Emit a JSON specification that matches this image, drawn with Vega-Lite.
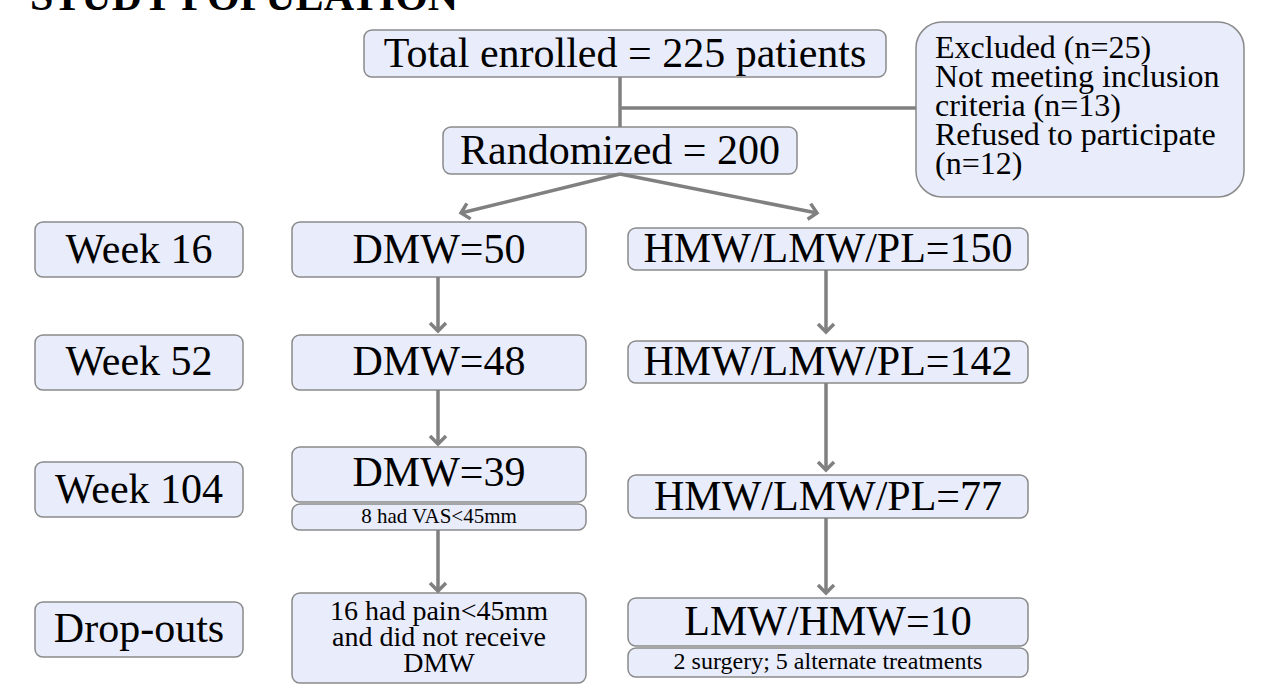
{
  "$schema": "https://vega.github.io/schema/vega-lite/v6.json",
  "autosize": {"type": "none"},
  "width": 1270,
  "height": 688,
  "padding": 0,
  "background": "white",
  "config": {"view": {"stroke": null}},
  "datasets": {
    "boxes": [
      {"id": "total", "x1": 364, "x2": 886, "y1": 30, "y2": 77, "kind": "normal"},
      {"id": "rand", "x1": 443, "x2": 797, "y1": 127, "y2": 174, "kind": "normal"},
      {"id": "excl", "x1": 916, "x2": 1244, "y1": 22, "y2": 197, "kind": "round"},
      {"id": "w16", "x1": 35, "x2": 243, "y1": 222, "y2": 277, "kind": "normal"},
      {"id": "d50", "x1": 292, "x2": 586, "y1": 222, "y2": 277, "kind": "normal"},
      {"id": "h150", "x1": 628, "x2": 1028, "y1": 228, "y2": 270, "kind": "normal"},
      {"id": "w52", "x1": 35, "x2": 243, "y1": 335, "y2": 390, "kind": "normal"},
      {"id": "d48", "x1": 292, "x2": 586, "y1": 335, "y2": 390, "kind": "normal"},
      {"id": "h142", "x1": 628, "x2": 1028, "y1": 341, "y2": 383, "kind": "normal"},
      {"id": "w104", "x1": 35, "x2": 243, "y1": 462, "y2": 517, "kind": "normal"},
      {"id": "d39", "x1": 292, "x2": 586, "y1": 447, "y2": 502, "kind": "normal"},
      {"id": "d39s", "x1": 292, "x2": 586, "y1": 504, "y2": 530, "kind": "normal"},
      {"id": "h77", "x1": 628, "x2": 1028, "y1": 475, "y2": 518, "kind": "normal"},
      {"id": "drop", "x1": 35, "x2": 243, "y1": 602, "y2": 657, "kind": "normal"},
      {"id": "pain", "x1": 292, "x2": 586, "y1": 593, "y2": 683, "kind": "normal"},
      {"id": "l10", "x1": 628, "x2": 1028, "y1": 598, "y2": 646, "kind": "normal"},
      {"id": "l10s", "x1": 628, "x2": 1028, "y1": 648, "y2": 677, "kind": "normal"}
    ],
    "lines": [
      {"x1": 620, "y1": 77, "x2": 620, "y2": 127},
      {"x1": 620, "y1": 108, "x2": 916, "y2": 108},
      {"x1": 620, "y1": 174, "x2": 461, "y2": 213},
      {"x1": 620, "y1": 174, "x2": 817, "y2": 213},
      {"x1": 438, "y1": 277, "x2": 438, "y2": 331},
      {"x1": 438, "y1": 390, "x2": 438, "y2": 444},
      {"x1": 438, "y1": 530, "x2": 438, "y2": 591},
      {"x1": 826, "y1": 270, "x2": 826, "y2": 332},
      {"x1": 826, "y1": 383, "x2": 826, "y2": 470},
      {"x1": 826, "y1": 518, "x2": 826, "y2": 593}
    ],
    "heads": [
      {"x": 461, "y": 213, "angle": 76.3},
      {"x": 817, "y": 213, "angle": -78.9},
      {"x": 438, "y": 331, "angle": 0},
      {"x": 438, "y": 444, "angle": 0},
      {"x": 438, "y": 591, "angle": 0},
      {"x": 826, "y": 332, "angle": 0},
      {"x": 826, "y": 470, "angle": 0},
      {"x": 826, "y": 593, "angle": 0}
    ],
    "labels": [
      {"t": "Total enrolled = 225 patients", "x": 625, "y": 54, "s": 42},
      {"t": "Randomized = 200", "x": 620, "y": 151, "s": 42},
      {"t": "Week 16", "x": 139, "y": 250, "s": 42},
      {"t": "DMW=50", "x": 439, "y": 250, "s": 42},
      {"t": "HMW/LMW/PL=150", "x": 828, "y": 249, "s": 42},
      {"t": "Week 52", "x": 139, "y": 362, "s": 42},
      {"t": "DMW=48", "x": 439, "y": 362, "s": 42},
      {"t": "HMW/LMW/PL=142", "x": 828, "y": 362, "s": 42},
      {"t": "Week 104", "x": 139, "y": 490, "s": 42},
      {"t": "DMW=39", "x": 439, "y": 473, "s": 42},
      {"t": "8 had VAS<45mm", "x": 439, "y": 517, "s": 21},
      {"t": "HMW/LMW/PL=77", "x": 828, "y": 497, "s": 42},
      {"t": "Drop-outs", "x": 139, "y": 629, "s": 42},
      {"t": "16 had pain<45mm", "x": 439, "y": 612, "s": 28},
      {"t": "and did not receive", "x": 439, "y": 638, "s": 28},
      {"t": "DMW", "x": 439, "y": 664, "s": 28},
      {"t": "LMW/HMW=10", "x": 828, "y": 622, "s": 42},
      {"t": "2 surgery; 5 alternate treatments", "x": 828, "y": 662, "s": 24}
    ],
    "exclLines": [
      {"t": "Excluded (n=25)", "x": 935, "y": 48},
      {"t": "Not meeting inclusion", "x": 935, "y": 77},
      {"t": "criteria (n=13)", "x": 935, "y": 106},
      {"t": "Refused to participate", "x": 935, "y": 135},
      {"t": "(n=12)", "x": 935, "y": 164}
    ],
    "title": [
      {"t": "STUDY POPULATION", "x": 30, "y": 10}
    ]
  },
  "layer": [
    {
      "data": {"name": "boxes"},
      "transform": [{"filter": "datum.kind === 'normal'"}],
      "mark": {"type": "rect", "cornerRadius": 8, "fill": "#e9ecfb", "stroke": "#8a8a8a", "strokeWidth": 1.5},
      "encoding": {
        "x": {"field": "x1", "type": "quantitative", "scale": {"domain": [0, 1270], "nice": false, "zero": false}, "axis": null},
        "x2": {"field": "x2"},
        "y": {"field": "y1", "type": "quantitative", "scale": {"domain": [0, 688], "nice": false, "zero": false, "reverse": true}, "axis": null},
        "y2": {"field": "y2"}
      }
    },
    {
      "data": {"name": "boxes"},
      "transform": [{"filter": "datum.kind === 'round'"}],
      "mark": {"type": "rect", "cornerRadius": 26, "fill": "#e9ecfb", "stroke": "#8a8a8a", "strokeWidth": 1.5},
      "encoding": {
        "x": {"field": "x1", "type": "quantitative"},
        "x2": {"field": "x2"},
        "y": {"field": "y1", "type": "quantitative"},
        "y2": {"field": "y2"}
      }
    },
    {
      "data": {"name": "lines"},
      "mark": {"type": "rule", "stroke": "#808080", "strokeWidth": 3.5},
      "encoding": {
        "x": {"field": "x1", "type": "quantitative"},
        "x2": {"field": "x2"},
        "y": {"field": "y1", "type": "quantitative"},
        "y2": {"field": "y2"}
      }
    },
    {
      "data": {"name": "heads"},
      "mark": {"type": "point", "shape": "M-1,-1L0,0L1,-1", "filled": false, "stroke": "#808080", "strokeWidth": 3.5, "size": 256, "opacity": 1},
      "encoding": {
        "x": {"field": "x", "type": "quantitative"},
        "y": {"field": "y", "type": "quantitative"},
        "angle": {"field": "angle", "type": "quantitative", "scale": null}
      }
    },
    {
      "data": {"name": "labels"},
      "mark": {"type": "text", "font": "Liberation Serif", "align": "center", "baseline": "middle", "color": "black"},
      "encoding": {
        "x": {"field": "x", "type": "quantitative"},
        "y": {"field": "y", "type": "quantitative"},
        "text": {"field": "t"},
        "size": {"field": "s", "type": "quantitative", "scale": null}
      }
    },
    {
      "data": {"name": "exclLines"},
      "mark": {"type": "text", "font": "Liberation Serif", "align": "left", "baseline": "middle", "fontSize": 32, "color": "black"},
      "encoding": {
        "x": {"field": "x", "type": "quantitative"},
        "y": {"field": "y", "type": "quantitative"},
        "text": {"field": "t"}
      }
    },
    {
      "data": {"name": "title"},
      "mark": {"type": "text", "font": "Liberation Serif", "align": "left", "baseline": "alphabetic", "fontSize": 42, "fontWeight": "bold", "color": "black"},
      "encoding": {
        "x": {"field": "x", "type": "quantitative"},
        "y": {"field": "y", "type": "quantitative"},
        "text": {"field": "t"}
      }
    }
  ]
}
